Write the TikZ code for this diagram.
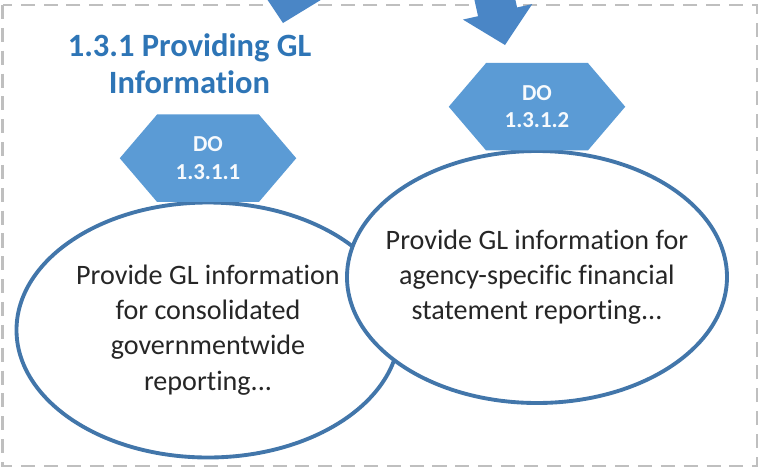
\documentclass[tikz,border=0pt]{standalone}
\usepackage{fontspec}
\setmainfont{Carlito}[Ligatures={NoCommon}]
\usepackage{tikz}
\usetikzlibrary{positioning,shapes.geometric,shapes.symbols}

\definecolor{doblue}{RGB}{91,155,213}
\definecolor{arrowblue}{RGB}{74,134,198}
\definecolor{ringblue}{RGB}{66,118,170}
\definecolor{headblue}{RGB}{46,117,182}

% block arrow, tip at #1, turned by #2
\newcommand{\flowarrow}[2]{%
	\begin{scope}[shift={#1},rotate=#2]
		\fill[arrowblue] (0,0) -- (-0.68,0.71) -- (-0.68,0.4) -- (-3,0.4) -- (-3,-0.4) -- (-0.68,-0.4) -- (-0.68,-0.71) -- cycle;
	\end{scope}}

\begin{document}
\begin{tikzpicture}[
	dohex/.style={signal,signal to=east and west,signal pointer angle=99,fill=doblue,draw=none,text=white!95!doblue,align=center,inner sep=0pt,minimum width=3.53cm,minimum height=1.75cm,font=\bfseries\fontsize{13}{15.6}\selectfont},
	goal/.style={ellipse,draw=ringblue,line width=2.2pt,fill=white,inner sep=0pt},
	goaltext/.style={align=center,inner sep=0pt,text=black!85,font=\fontsize{16}{20}\selectfont}
	]
	\useasboundingbox (0,0) rectangle (15.2,-9.4);
	\clip (0,0) rectangle (15.2,-9.4);

	\draw[black!25,line width=1.2pt,dash pattern=on 8pt off 5pt] (0.05,-0.1) rectangle (15.14,-9.32);

	\flowarrow{(5.66,-0.46)}{-102.4}
	\flowarrow{(10.10,-0.90)}{-77.4}

	\node[headblue,align=center,font=\bfseries\fontsize{18.5}{21}\selectfont] (title) at (3.79,-1.27) {1.3.1 Providing GL\\Information};

	\begin{scope}
		\node[goal,minimum width=7.66cm,minimum height=5.1cm] (govwide) at (4.16,-6.6) {};
		\node[goaltext] (govtext) at (govwide) {Provide GL information\\for consolidated\\governmentwide\\reporting...};
		\node[goal,minimum width=7.6cm,minimum height=5.04cm] (agency) at (10.74,-5.54) {};
		\node[goaltext] (agencytext) at (agency) {Provide GL information for\\agency-specific financial\\statement reporting...};

		\node[dohex,above=-1pt of govwide] (do1) {DO\\1.3.1.1};
		\node[dohex,above=-1pt of agency] (do2) {DO\\1.3.1.2};
	\end{scope}
\end{tikzpicture}
\end{document}
